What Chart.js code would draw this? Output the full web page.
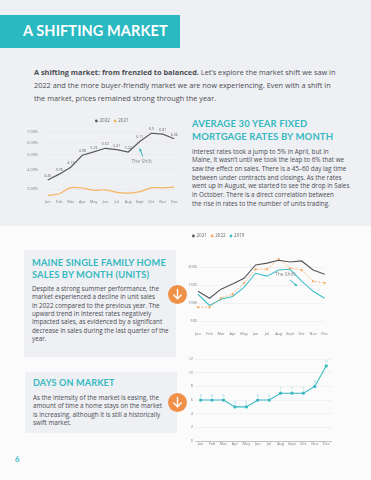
<!DOCTYPE html>
<html>
<head>
<meta charset="utf-8">
<script src="https://cdn.jsdelivr.net/npm/chart.js@4.4.1/dist/chart.umd.min.js"></script>
<style>
body{margin:0;width:371px;height:480px;position:relative;overflow:hidden;background:#fbfbfc;font-family:"Open Sans",sans-serif;color:#4b4c52;}
.abs{position:absolute}
#top{left:0;top:0;width:371px;height:226px;background:#eff0f4}
#banner{left:0;top:15px;width:180px;height:33px;background:#2ab8c1}
#banner span{position:absolute;left:23px;top:7px;font:700 14.5px Lato;color:#fff;letter-spacing:0.1px;white-space:nowrap}
.txt{white-space:nowrap;font-size:6.3px;line-height:8.6px}
.tit{margin:0;font-family:Lato;font-weight:700;color:#35b9c1;letter-spacing:0.15px;white-space:nowrap}
.box{background:#eff0f4}
.icon{width:19px;height:19px;border-radius:50%;background:#f0914a}
canvas{position:absolute}
</style>
</head>
<body>
<div id="top" class="abs"></div>
<div id="banner" class="abs"><span>A SHIFTING MARKET</span></div>

<div class="abs txt" style="left:34px;top:65.5px;font-size:7.35px;line-height:13px;">
<b>A shifting market: from frenzied to balanced.</b> Let’s explore the market shift we saw in<br>
2022 and the more buyer-friendly market we are now experiencing. Even with a shift in<br>
the market, prices remained strong through the year.
</div>

<div class="abs tit" style="left:192px;top:116.5px;font-size:9.5px;line-height:13px;">AVERAGE 30 YEAR FIXED<br>MORTGAGE RATES BY MONTH</div>
<div class="abs txt" style="left:192px;top:147.7px;line-height:8.65px;">
Interest rates took a jump to 5% in April, but in<br>
Maine, it wasn’t until we took the leap to 6% that we<br>
saw the effect on sales. There is a 45–60 day lag time<br>
between under contracts and closings. As the rates<br>
went up in August, we started to see the drop in Sales<br>
in October. There is a direct correlation between<br>
the rise in rates to the number of units trading.
</div>

<div class="abs box" style="left:24px;top:250px;width:152px;height:107px;"></div>
<div class="abs tit" style="left:32px;top:257px;font-size:9.3px;line-height:11.5px;">MAINE SINGLE FAMILY HOME<br>SALES BY MONTH (UNITS)</div>
<div class="abs txt" style="left:32px;top:284.8px;line-height:8.4px;">
Despite a strong summer performance, the<br>
market experienced a decline in unit sales<br>
in 2022 compared to the previous year. The<br>
upward trend in interest rates negatively<br>
impacted sales, as evidenced by a significant<br>
decrease in sales during the last quarter of the<br>
year.
</div>
<div class="abs icon" style="left:168px;top:285px;"><svg width="19" height="19" viewBox="0 0 19 19"><path d="M9.5 4.5 V13.5 M5.8 10 L9.5 13.8 L13.2 10" stroke="#fff" stroke-width="1.4" fill="none" stroke-linecap="round"/></svg></div>

<div class="abs box" style="left:25px;top:372px;width:152px;height:61px;"></div>
<div class="abs tit" style="left:33px;top:377px;font-size:9.1px;line-height:12px;">DAYS ON MARKET</div>
<div class="abs txt" style="left:33px;top:393.8px;line-height:8.5px;">
As the intensity of the market is easing, the<br>
amount of time a home stays on the market<br>
is increasing, although it is still a historically<br>
swift market.
</div>
<div class="abs icon" style="left:167.5px;top:393px;"><svg width="19" height="19" viewBox="0 0 19 19"><path d="M9.5 4.5 V13.5 M5.8 10 L9.5 13.8 L13.2 10" stroke="#fff" stroke-width="1.4" fill="none" stroke-linecap="round"/></svg></div>

<div class="abs" style="left:15px;top:455px;font:700 7.5px Lato;color:#35b9c1;">6</div>

<canvas id="tasas" width="160" height="95" style="left:20px;top:113px;"></canvas>
<canvas id="ventas" width="151" height="107" style="left:184px;top:230px;"></canvas>
<canvas id="dias" width="153" height="95" style="left:184px;top:354px;"></canvas>

<script>
// datos
var meses = ['Jan','Feb','Mar','Apr','May','Jun','Jul','Aug','Sept','Oct','Nov','Dec'];
var tasas2022 = [3.45, 3.76, 4.17, 4.98, 5.23, 5.52, 5.41, 5.22, 6.11, 6.9, 6.81, 6.36];
var tasas2021 = [2.74, 2.81, 3.08, 3.06, 2.96, 2.98, 2.87, 2.84, 2.90, 3.07, 3.07, 3.10];
var tasaTicks = [3, 4, 5, 6, 7];

var ventas2021 = [1330, 1140, 1390, 1530, 1690, 2060, 2110, 2190, 2140, 2170, 1920, 1800];
var ventas2022 = [890, 890, 1140, 1250, 1560, 1940, 1940, 2220, 1970, 1920, 1610, 1560];
var ventas2019 = [1250, 940, 1110, 1190, 1440, 1830, 1750, 1920, 1940, 1610, 1330, 1140];
var ventasTicks = [500, 1000, 1500, 2000];

var dias = [6, 6, 6, 5, 5, 6, 6, 7, 7, 7, 8, 11];
var diasTicks = [0, 2, 4, 6, 8, 10, 12];

Chart.defaults.font.family = '"Open Sans"';
Chart.defaults.color = '#7a7b80';
Chart.defaults.animation = false;

// etiquetas encima de los puntos
var etiquetasPlugin = {
    id: 'etiquetas',
    afterDatasetsDraw: function(chart, args, opts) {
        if (!opts.show) return;
        var ctx = chart.ctx;
        var valores = chart.data.datasets[opts.dataset].data;
        var meta = chart.getDatasetMeta(opts.dataset);
        ctx.save();
        ctx.font = opts.size + 'px "Open Sans"';
        ctx.fillStyle = opts.color;
        ctx.textAlign = 'center';
        meta.data.forEach(function(p, i) {
            ctx.fillText(String(valores[i]), p.x, p.y - opts.offset);
        });
        ctx.restore();
    }
};

// leyenda pequeña: punto + año
var leyendaPlugin = {
    id: 'leyenda',
    afterDraw: function(chart, args, o) {
        if (!o.show) return;
        var ctx = chart.ctx;
        ctx.save();
        ctx.font = o.size + 'px "Open Sans"';
        ctx.textBaseline = 'middle';
        var x = o.x;
        chart.data.datasets.forEach(function(ds) {
            ctx.fillStyle = ds.borderColor;
            ctx.beginPath(); ctx.arc(x + 1.4, o.y, 1.4, 0, Math.PI * 2); ctx.fill();
            ctx.fillStyle = '#666';
            ctx.fillText(ds.label, x + 4.5, o.y);
            x += 4.5 + ctx.measureText(ds.label).width + 4;
        });
        ctx.restore();
    }
};

// texto "The Shift" con flecha, anclado a un punto
var flechaPlugin = {
    id: 'flecha',
    afterDatasetsDraw: function(chart, args, o) {
        if (!o.show) return;
        var p = chart.getDatasetMeta(o.dataset).data[o.index];
        var ctx = chart.ctx;
        ctx.save();
        ctx.font = o.size + 'px "Open Sans"';
        ctx.fillStyle = '#8a8b90';
        ctx.textAlign = 'center';
        ctx.textBaseline = 'middle';
        ctx.fillText('The Shift', p.x + o.texto[0], p.y + o.texto[1]);
        var x1 = p.x + o.desde[0], y1 = p.y + o.desde[1];
        var x2 = p.x + o.hasta[0], y2 = p.y + o.hasta[1];
        ctx.strokeStyle = '#2bb5bd';
        ctx.fillStyle = '#2bb5bd';
        ctx.lineWidth = 1;
        ctx.beginPath(); ctx.moveTo(x1, y1); ctx.lineTo(x2, y2); ctx.stroke();
        var ang = Math.atan2(y2 - y1, x2 - x1);
        ctx.beginPath();
        ctx.moveTo(x2, y2);
        ctx.lineTo(x2 - 3 * Math.cos(ang - 0.5), y2 - 3 * Math.sin(ang - 0.5));
        ctx.lineTo(x2 - 3 * Math.cos(ang + 0.5), y2 - 3 * Math.sin(ang + 0.5));
        ctx.closePath(); ctx.fill();
        ctx.restore();
    }
};

function fijarTicks(lista) {
    return function(axis) { axis.ticks = lista.map(function(v) { return {value: v}; }); };
}
function alto(h) { return function(axis) { axis.height = h; }; }
function ancho(w) { return function(axis) { axis.width = w; }; }

// Tasas hipotecarias
new Chart(document.getElementById('tasas'), {
    type: 'line',
    data: {
        labels: meses,
        datasets: [
            {label: '2022', data: tasas2022, borderColor: '#58595f', backgroundColor: '#58595f', borderWidth: 1.2, pointRadius: 0},
            {label: '2021', data: tasas2021, borderColor: '#f5b461', backgroundColor: '#f5b461', borderWidth: 1.2, pointRadius: 0, tension: 0.3}
        ]
    },
    options: {
        responsive: false,
        layout: {padding: {top: 12, right: 0, bottom: 0, left: 0}},
        plugins: {
            legend: {display: false},
            tooltip: {enabled: false},
            leyenda: {show: true, x: 75, y: 8, size: 4.5},
            etiquetas: {show: true, dataset: 0, size: 3.6, color: '#666', offset: 3},
            flecha: {show: true, dataset: 0, index: 8, size: 5, texto: [2, 20], desde: [3, 15], hasta: [0, 7]}
        },
        scales: {
            x: {offset: true, afterFit: alto(9), grid: {display: false, drawTicks: false}, border: {display: false},
                ticks: {font: {size: 3.8}, maxRotation: 0, autoSkip: false, padding: 1}},
            y: {type: 'logarithmic', min: 2.6, max: 7.8, afterBuildTicks: fijarTicks(tasaTicks), afterFit: ancho(22),
                ticks: {font: {size: 3.8}, padding: 4, callback: function(v) { return v.toFixed(2) + '%'; }},
                grid: {color: '#e4e5ea', lineWidth: 0.5, drawTicks: false}, border: {display: false}}
        }
    },
    plugins: [etiquetasPlugin, flechaPlugin, leyendaPlugin]
});

// Ventas por mes
new Chart(document.getElementById('ventas'), {
    type: 'line',
    data: {
        labels: meses,
        datasets: [
            {label: '2021', data: ventas2021, borderColor: '#55565c', backgroundColor: '#55565c', borderWidth: 1.1, pointRadius: 0},
            {label: '2022', data: ventas2022, borderColor: '#f5a95c', backgroundColor: '#f5a95c', borderWidth: 0.8, borderDash: [2, 1.5], pointRadius: 0.8},
            {label: '2019', data: ventas2019, borderColor: '#3cc0c8', backgroundColor: '#3cc0c8', borderWidth: 1.1, pointRadius: 0}
        ]
    },
    options: {
        responsive: false,
        layout: {padding: {top: 19, right: 2, bottom: 0, left: 0}},
        plugins: {
            legend: {display: false},
            tooltip: {enabled: false},
            leyenda: {show: true, x: 8, y: 6, size: 4.5},
            flecha: {show: true, dataset: 0, index: 8, size: 5, texto: [-5, 13], desde: [0, 18], hasta: [7, 24]}
        },
        scales: {
            x: {afterFit: alto(12), grid: {display: false, drawTicks: false}, border: {display: false},
                ticks: {font: {size: 3.8}, maxRotation: 0, autoSkip: false, padding: 7}},
            y: {min: 400, max: 2500, afterBuildTicks: fijarTicks(ventasTicks), afterFit: ancho(14),
                ticks: {font: {size: 3.8}, padding: 1, callback: function(v) { return String(v); }},
                grid: {color: '#e6e7ec', lineWidth: 0.5, drawTicks: false}, border: {display: false}}
        }
    },
    plugins: [flechaPlugin, leyendaPlugin]
});

// Días en el mercado
new Chart(document.getElementById('dias'), {
    type: 'line',
    data: {
        labels: meses,
        datasets: [
            {label: 'Days', data: dias, borderColor: '#3ab9c1', backgroundColor: '#3ab9c1', borderWidth: 1.1, pointRadius: 1.1}
        ]
    },
    options: {
        responsive: false,
        layout: {padding: {top: 5, right: 0, bottom: 0, left: 0}},
        plugins: {
            legend: {display: false},
            tooltip: {enabled: false},
            etiquetas: {show: true, dataset: 0, size: 3.6, color: '#7fd0d5', offset: 3}
        },
        scales: {
            x: {offset: true, afterFit: alto(8), grid: {display: false, drawTicks: false}, border: {color: '#a9aab0', width: 0.7},
                ticks: {font: {size: 3.8}, maxRotation: 0, autoSkip: false, padding: 1}},
            y: {min: 0, max: 12, afterBuildTicks: fijarTicks(diasTicks), afterFit: ancho(11),
                ticks: {font: {size: 3.8}, padding: 2},
                grid: {color: '#e6e7ec', lineWidth: 0.5, drawTicks: false}, border: {display: false}}
        }
    },
    plugins: [etiquetasPlugin]
});
</script>
</body>
</html>
